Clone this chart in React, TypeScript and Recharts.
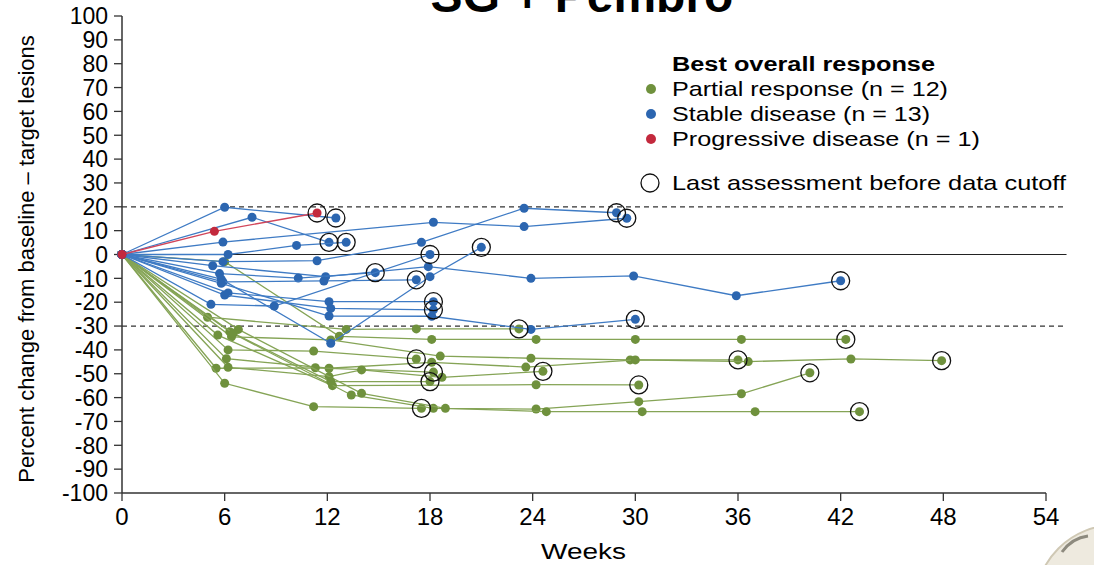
import React from "react";
import { ScatterChart, Scatter, XAxis, YAxis, ReferenceLine } from "recharts";

// Weeks on study and % change in target lesions, one array per patient
const partialResponse: number[][][] = [
  [[0, 0], [6.0, -3.0], [12.7, -34.3], [18.1, -35.6], [24.2, -35.6], [30.0, -35.6], [36.2, -35.6], [42.3, -35.6]],
  [[0, 0], [5.0, -26.3], [13.1, -31.4], [17.2, -31.2], [23.2, -31.2]],
  [[0, 0], [6.2, -40.0], [11.2, -40.5], [17.2, -43.8]],
  [[0, 0], [6.4, -34.5], [12.2, -35.8], [18.6, -42.6], [23.9, -43.5], [29.7, -44.2], [36.0, -44.2]],
  [[0, 0], [6.1, -43.7], [12.1, -47.7], [18.1, -45.2], [23.6, -47.2], [30.0, -44.2], [36.6, -44.9], [42.6, -43.8], [47.9, -44.5]],
  [[0, 0], [5.5, -47.7], [11.3, -47.5], [18.2, -49.3]],
  [[0, 0], [6.2, -47.3], [12.1, -51.2], [14.0, -48.4], [18.7, -51.5], [24.6, -49.0]],
  [[0, 0], [6.0, -54.0], [11.2, -63.8], [17.5, -64.5]],
  [[0, 0], [5.6, -33.8], [12.3, -55.0], [24.2, -54.6], [30.2, -54.7]],
  [[0, 0], [6.3, -32.4], [13.4, -58.9], [18.2, -64.5], [24.2, -64.8], [30.2, -61.7], [36.2, -58.4], [40.2, -49.6]],
  [[0, 0], [6.8, -31.4], [14.0, -58.2], [18.9, -64.5], [24.8, -65.9], [30.4, -65.9], [37.0, -65.9], [43.1, -65.9]],
  [[0, 0], [6.5, -33.0], [12.2, -53.3], [18.0, -53.3]],
];

const stableDisease: number[][][] = [
  [[0, 0], [6.0, 19.8], [12.5, 15.3]],
  [[0, 0], [7.6, 15.6], [12.1, 5.1]],
  [[0, 0], [6.2, 0], [10.2, 3.8], [13.1, 5.1]],
  [[0, 0], [5.9, 5.2], [18.2, 13.5], [23.5, 11.7], [29.5, 15.2]],
  [[0, 0], [5.9, -3.0], [11.4, -2.6], [17.5, 5.1], [23.5, 19.4], [28.9, 17.5]],
  [[0, 0], [5.3, -4.7], [11.9, -9.3], [17.9, -5.1], [23.9, -10.0], [29.9, -9.0], [35.9, -17.3], [42.0, -11.0]],
  [[0, 0], [5.7, -8.0], [10.3, -9.9], [14.8, -7.6]],
  [[0, 0], [5.9, -11.5], [11.8, -11.1], [17.2, -10.6]],
  [[0, 0], [5.8, -10.3], [12.2, -37.2], [18.0, -9.3], [21.0, 3.0]],
  [[0, 0], [5.2, -20.9], [8.9, -21.6], [18.0, 0]],
  [[0, 0], [6.2, -16.1], [12.1, -19.8], [18.2, -19.8]],
  [[0, 0], [6.0, -17.0], [12.2, -22.6], [18.2, -23.2]],
  [[0, 0], [5.8, -12.1], [12.1, -25.8], [18.1, -25.9], [23.9, -31.4], [30.0, -27.2]],
];

const progressiveDisease: number[][][] = [
  [[0, 0], [5.4, 9.7], [11.4, 17.4]],
];

const weekTicks = [0, 6, 12, 18, 24, 30, 36, 42, 48, 54];
const pctTicks = [-100, -90, -80, -70, -60, -50, -40, -30, -20, -10, 0, 10, 20, 30, 40, 50, 60, 70, 80, 90, 100];
const thresholds = [20, -30];

const legendItems = [
  { label: "Partial response (n = 12)", color: "#6f913d", width: 276 },
  { label: "Stable disease (n = 13)", color: "#2c66b0", width: 258 },
  { label: "Progressive disease (n = 1)", color: "#c3293d", width: 308 },
];

const GREEN = { dot: "#6f913d", line: "#85a456" };
const BLUE = { dot: "#2c66b0", line: "#3f7bc4" };
const RED = { dot: "#c3293d", line: "#d2465a" };

const W = 1094;
const H = 565;
const FONT = '"Liberation Sans", Arial, Helvetica, sans-serif';

const toPoints = (trace: number[][]) => trace.map(([x, y]) => ({ x, y }));

const lastPoints = [...partialResponse, ...stableDisease, ...progressiveDisease].map((t) => {
  const [x, y] = t[t.length - 1];
  return { x, y };
});

const dotShape = (fill: string) => (p: any) =>
  p.cx == null ? <g /> : <circle cx={p.cx} cy={p.cy} r={4.5} fill={fill} />;

const ringShape = (p: any) =>
  p.cx == null ? <g /> : <circle cx={p.cx} cy={p.cy} r={9} fill="none" stroke="#111" strokeWidth={1.3} />;

const YTick = ({ x, y, payload }: any) => (
  <text x={x} y={y} dy="0.36em" textAnchor="end" fontSize={23} fontFamily={FONT} fill="#000">
    {payload.value}
  </text>
);

const XTick = ({ x, y, payload }: any) => (
  <text x={x} y={y} dy="0.72em" textAnchor="middle" fontSize={24} fontFamily={FONT} fill="#000">
    {payload.value}
  </text>
);

function group(traces: number[][][], c: { dot: string; line: string }, key: string) {
  return traces.map((t, i) => (
    <Scatter
      key={`${key}-${i}`}
      data={toPoints(t)}
      line={{ stroke: c.line, strokeWidth: 1.3 }}
      lineType="joint"
      shape={dotShape(c.dot)}
      isAnimationActive={false}
    />
  ));
}

export default function App() {
  return (
    <div style={{ position: "relative", width: W, height: H, background: "#fff", overflow: "hidden" }}>
      <style>{`body{margin:0;background:#fff}`}</style>
      <ScatterChart width={W} height={H} margin={{ top: 16, right: 48, bottom: 0, left: 0 }}>
        <XAxis
          type="number"
          dataKey="x"
          domain={[0, 54]}
          ticks={weekTicks}
          interval={0}
          tickSize={8}
          tickMargin={7}
          height={72}
          tick={<XTick />}
          axisLine={{ stroke: "#333", strokeWidth: 1.5 }}
          tickLine={{ stroke: "#333", strokeWidth: 1.3 }}
        />
        <YAxis
          type="number"
          dataKey="y"
          domain={[-100, 100]}
          ticks={pctTicks}
          interval={0}
          tickSize={8}
          tickMargin={6}
          width={122}
          tick={<YTick />}
          axisLine={{ stroke: "#333", strokeWidth: 1.5 }}
          tickLine={{ stroke: "#333", strokeWidth: 1.3 }}
        />
        <ReferenceLine
          segment={[{ x: 0, y: 0 }, { x: 55.2, y: 0 }]}
          stroke="#222"
          strokeWidth={1.2}
          ifOverflow="visible"
        />
        {thresholds.map((v) => (
          <ReferenceLine
            key={v}
            segment={[{ x: 0, y: v }, { x: 55.2, y: v }]}
            stroke="#333"
            strokeWidth={1.2}
            strokeDasharray="5 4"
            ifOverflow="visible"
          />
        ))}
        {group(partialResponse, GREEN, "pr")}
        {group(stableDisease, BLUE, "sd")}
        {group(progressiveDisease, RED, "pd")}
        <Scatter data={lastPoints} shape={ringShape} isAnimationActive={false} />
      </ScatterChart>

      <svg
        width={W}
        height={H}
        style={{ position: "absolute", left: 0, top: 0, pointerEvents: "none" }}
      >
        {/* corner seal, partly off the page */}
        <circle cx={1115} cy={605} r={80} fill="#eeeadf" stroke="#cfc8b4" strokeWidth={2} />
        <path d="M1062 552 q10 -14 26 -16" fill="none" stroke="#8d8a7e" strokeWidth={3} />

        <text x={582} y={12} textAnchor="middle" fontSize={48} fontWeight="bold" fontFamily={FONT}>
          SG + Pembro
        </text>
        <text
          transform="translate(34,259) rotate(-90)"
          textAnchor="middle"
          fontSize={22}
          fontFamily={FONT}
        >
          Percent change from baseline – target lesions
        </text>
        <text
          x={541}
          y={559}
          fontSize={22}
          fontFamily={FONT}
          textLength={85}
          lengthAdjust="spacingAndGlyphs"
        >
          Weeks
        </text>
        <text
          x={672}
          y={71}
          fontSize={20}
          fontWeight="bold"
          fontFamily={FONT}
          textLength={263}
          lengthAdjust="spacingAndGlyphs"
        >
          Best overall response
        </text>
        {legendItems.map((it, i) => (
          <g key={it.label}>
            <circle cx={651} cy={89 + i * 25} r={5} fill={it.color} />
            <text
              x={672}
              y={96 + i * 25}
              fontSize={21}
              fontFamily={FONT}
              textLength={it.width}
              lengthAdjust="spacingAndGlyphs"
            >
              {it.label}
            </text>
          </g>
        ))}
        <circle cx={650} cy={183} r={9} fill="none" stroke="#111" strokeWidth={1.3} />
        <text
          x={672}
          y={190}
          fontSize={21}
          fontFamily={FONT}
          textLength={394}
          lengthAdjust="spacingAndGlyphs"
        >
          Last assessment before data cutoff
        </text>
      </svg>
    </div>
  );
}
